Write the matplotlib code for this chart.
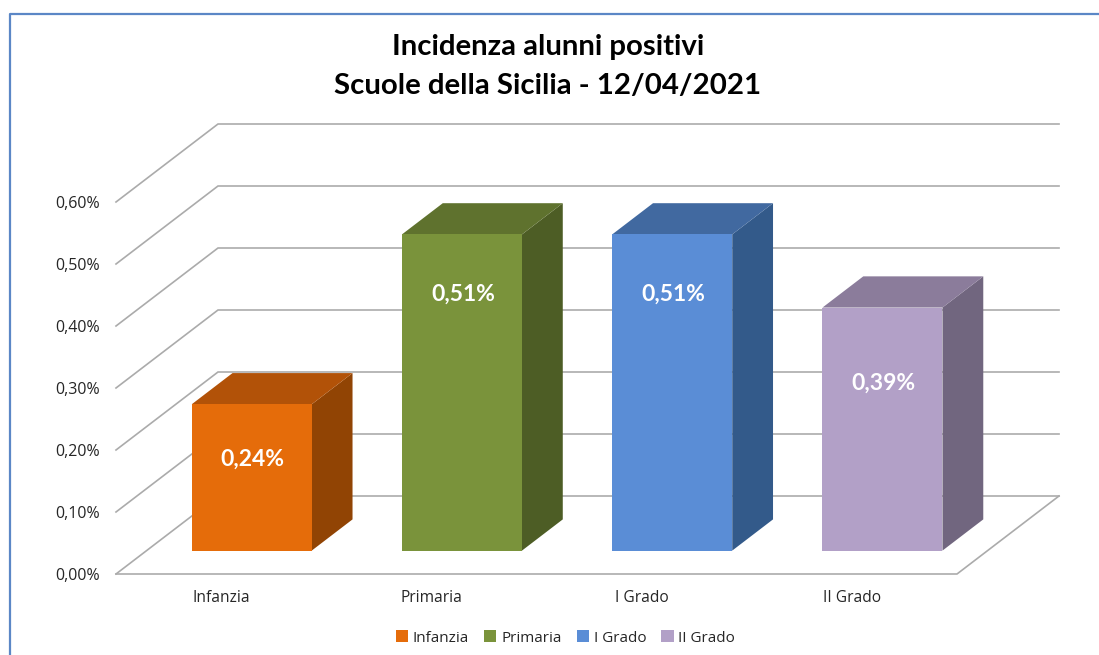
from matplotlib import pyplot as plt
from matplotlib.patches import Patch

categories = ['Infanzia', 'Primaria', 'I Grado', 'II Grado']
values = [0.236, 0.51, 0.51, 0.392]
value_labels = ['0,24%', '0,51%', '0,51%', '0,39%']
ticks = [0.0, 0.1, 0.2, 0.3, 0.4, 0.5, 0.6]
tick_labels = ['0,00%', '0,10%', '0,20%', '0,30%', '0,40%', '0,50%', '0,60%']

front_colors = ['#E56C0A', '#7A933B', '#5A8DD6', '#B2A0C7']
top_colors = ['#B25208', '#5F722E', '#4169A0', '#8B7C9B']
side_colors = ['#914404', '#4D5D25', '#335A8A', '#71667F']
grid_color = '#ABABAB'
text_color = '#262626'

W, H = 1099, 655
fig = plt.figure(figsize=(W / 100, H / 100), dpi=100, facecolor='white')

# front plane of the fake 3d box, in pixels of the reference
left, right, bottom, top = 116, 957, 574, 202
ax = fig.add_axes([left / W, 1 - bottom / H, (right - left) / W, (bottom - top) / H])
ax.set_xlim(0, 4)
ax.set_ylim(0, 0.6)
ax.axis('off')

# shift of the back wall in data units
depth_x = 102 / ((right - left) / 4)
depth_y = 78 / ((bottom - top) / 0.6)
bar_width = 120 / ((right - left) / 4)
bar_near, bar_far = 0.3, 0.7


def project(x, y, depth=0.0):
    return x + depth * depth_x, y + depth * depth_y


def poly(points, color, zorder):
    xs, ys = zip(*points)
    ax.fill(xs, ys, color=color, lw=0, zorder=zorder, clip_on=False)


# walls and floor
for tick, label in zip(ticks, tick_labels):
    xs, ys = zip(project(0, tick), project(0, tick, 1), project(4, tick, 1))
    ax.plot(xs, ys, color=grid_color, lw=1.2, zorder=1, clip_on=False, solid_joinstyle='miter')
    ax.text(-0.077, tick - 0.003, label, ha='right', va='center', fontsize=11.5, color=text_color,
            family='Open Sans')

xs, ys = zip(project(0, 0), project(4, 0), project(4, 0, 1))
ax.plot(xs, ys, color=grid_color, lw=1.2, zorder=1, clip_on=False)

# bars
label_drop = [0.089, 0.097, 0.096, 0.122]
for i, value in enumerate(values):
    x0 = i + 0.5 - bar_width / 2
    x1 = i + 0.5 + bar_width / 2
    poly([project(x1, 0, bar_near), project(x1, 0, bar_far),
          project(x1, value, bar_far), project(x1, value, bar_near)], side_colors[i], 3)
    poly([project(x0, value, bar_near), project(x1, value, bar_near),
          project(x1, value, bar_far), project(x0, value, bar_far)], top_colors[i], 3)
    poly([project(x0, 0, bar_near), project(x1, 0, bar_near),
          project(x1, value, bar_near), project(x0, value, bar_near)], front_colors[i], 4)
    tx, ty = project(i + 0.5, value - label_drop[i], bar_near)
    ax.text(tx + 0.005, ty, value_labels[i], ha='center', va='center', color='white',
            fontsize=16.5, fontweight='bold', family='Lato', zorder=5)
    ax.text(i + 0.5, -0.038, categories[i], ha='center', va='center', fontsize=11.2,
            color=text_color, family='Open Sans')

fig.text(548 / W, 1 - 47 / H, 'Incidenza alunni positivi', ha='center', va='center',
         fontsize=21.2, fontweight='bold', family='Lato', color='black')
fig.text(548 / W, 1 - 86 / H, 'Scuole della Sicilia - 12/04/2021', ha='center', va='center',
         fontsize=21.2, fontweight='bold', family='Lato', color='black')

handles = [Patch(facecolor=c, label=n) for c, n in zip(front_colors, categories)]
fig.legend(handles=handles, loc='center', bbox_to_anchor=(565.5 / W, 1 - 638 / H), ncol=4,
           frameon=False, handlelength=0.8, handleheight=0.8, handletextpad=0.3,
           columnspacing=1.0, prop={'family': 'Open Sans', 'size': 11}, labelcolor=text_color)

# chart border, cut off by the screenshot on the right and bottom
fig.add_artist(plt.Line2D([9.5 / W, 9.5 / W, 1], [0, 1 - 14 / H, 1 - 14 / H],
                          color='#5B87C6', lw=1.6))

fig.savefig('out.png', dpi=100)
